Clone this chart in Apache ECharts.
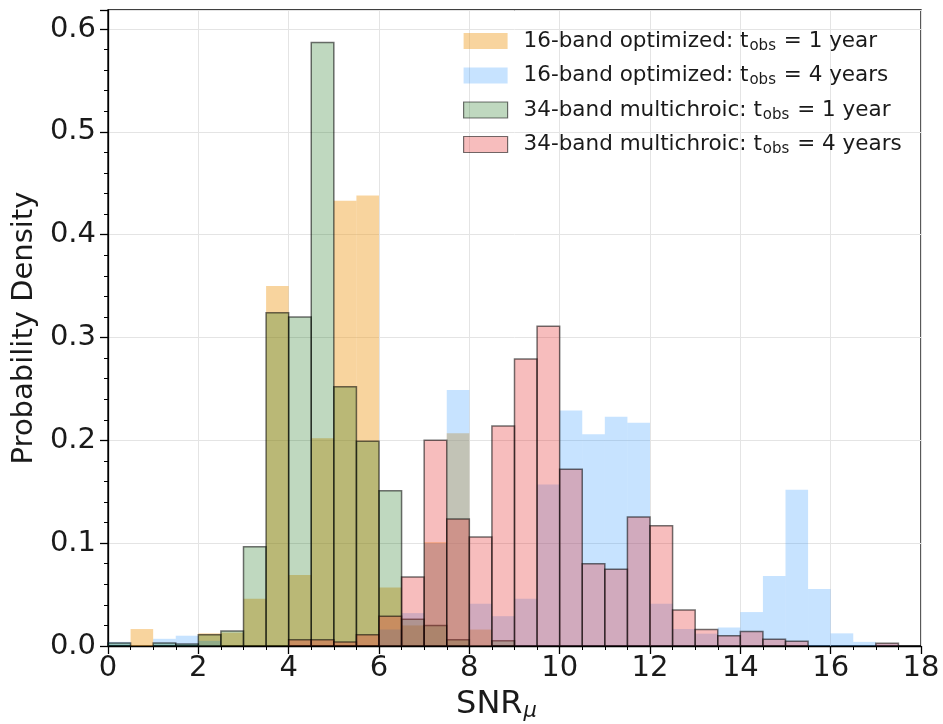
<!DOCTYPE html>
<html>
<head>
<meta charset="utf-8">
<script src="https://cdn.jsdelivr.net/npm/echarts@6/dist/echarts.min.js"></script>
<style>html,body{margin:0;padding:0;background:#fff}#c{width:943px;height:724px}</style>
</head>
<body>
<div id="c"></div>
<script>
// Histogram bins: width 0.5 from 0 to 17.5
const binWidth = 0.5;
const binStarts = [0,0.5,1,1.5,2,2.5,3,3.5,4,4.5,5,5.5,6,6.5,7,7.5,8,8.5,9,9.5,10,10.5,11,11.5,12,12.5,13,13.5,14,14.5,15,15.5,16,16.5,17];
const xTicks = [0,2,4,6,8,10,12,14,16,18];
const yTicks = [0.0,0.1,0.2,0.3,0.4,0.5,0.6];

// 16-band optimized, t_obs = 1 year
const opt1yr = [0,0.0165,0,0,0.0123,0.013,0.046,0.350,0.069,0.202,0.433,0.438,0.057,0.020,0.101,0.207,0.016,0,0,0,0,0,0,0,0,0,0,0,0,0,0,0,0,0,0];
// 16-band optimized, t_obs = 4 years
const opt4yr = [0.004,0,0.007,0.010,0.005,0,0,0,0,0,0,0,0.016,0.032,0.100,0.249,0.041,0.029,0.046,0.157,0.229,0.206,0.223,0.217,0.041,0.0165,0.012,0.018,0.033,0.068,0.152,0.0555,0.0123,0.004,0.002];
// 34-band multichroic, t_obs = 1 year
const mc1yr = [0.003,0,0.003,0.002,0.011,0.0146,0.0966,0.324,0.320,0.587,0.252,0.199,0.151,0.026,0.020,0.006,0,0.005,0,0,0,0,0,0,0,0,0,0,0,0,0,0,0,0,0];
// 34-band multichroic, t_obs = 4 years
const mc4yr = [0,0,0,0,0,0,0,0,0.006,0.006,0.004,0.011,0.029,0.067,0.200,0.1235,0.106,0.214,0.279,0.311,0.172,0.080,0.0746,0.1255,0.117,0.035,0.016,0.010,0.014,0.0065,0.0046,0,0,0,0.0026];

const names = [
  '16-band optimized: t{sub|obs} = 1 year',
  '16-band optimized: t{sub|obs} = 4 years',
  '34-band multichroic: t{sub|obs} = 1 year',
  '34-band multichroic: t{sub|obs} = 4 years'
];
const fills = ['rgba(240,160,40,0.45)','rgba(30,144,255,0.25)','rgba(0,100,0,0.25)','rgba(230,50,50,0.32)'];
const strokes = [null,null,'rgba(0,0,0,0.55)','rgba(0,0,0,0.55)'];
const allValues = [opt1yr, opt4yr, mc1yr, mc4yr];

const FONT = 'DejaVu Sans';

function histSeries(idx) {
  const data = binStarts.map((s, i) => [s, s + binWidth, allValues[idx][i]]);
  return {
    type: 'custom',
    name: names[idx],
    data: data,
    z: 2 + idx,
    itemStyle: {color: fills[idx], borderColor: strokes[idx] || 'transparent', borderWidth: strokes[idx] ? 1.5 : 0},
    encode: {x: [0, 1], y: 2},
    renderItem: function (params, api) {
      const x0 = api.value(0), x1 = api.value(1), v = api.value(2);
      if (!(v > 0)) return null;
      const p0 = api.coord([x0, v]);
      const p1 = api.coord([x1, 0]);
      return {
        type: 'rect',
        shape: {x: p0[0], y: p0[1], width: p1[0] - p0[0], height: p1[1] - p0[1]},
        style: strokes[idx]
          ? {fill: fills[idx], stroke: strokes[idx], lineWidth: 1.5}
          : {fill: fills[idx], stroke: null, lineWidth: 0}
      };
    }
  };
}

const chart = echarts.init(document.getElementById('c'), null, {renderer: 'canvas'});
const richSub = {sub: {fontSize: 15, fontFamily: FONT, color: '#1a1a1a', verticalAlign: 'bottom', padding: [10, 1, 0, 1]}};

chart.setOption({
  animation: false,
  backgroundColor: '#ffffff',
  textStyle: {fontFamily: FONT},
  grid: {left: 108, right: 22, top: 10, bottom: 78, show: true, borderColor: '#000', borderWidth: 1.3,
    backgroundColor: 'transparent', containLabel: false, outerBoundsMode: 'none'},
  legend: {
    orient: 'vertical',
    left: 458, top: 25,
    itemWidth: 44, itemHeight: 16, itemGap: 11,
    icon: 'rect',
    data: names.map((n, i) => ({name: n, itemStyle: {color: fills[i], borderColor: strokes[i] || 'transparent', borderWidth: strokes[i] ? 1.2 : 0}})),
    textStyle: {fontFamily: FONT, fontSize: 21.5, color: '#1a1a1a', padding: [0, 0, 0, 11], rich: richSub}
  },
  xAxis: {
    type: 'value', min: 0, max: 18, interval: 2,
    name: 'SNR{sub|μ}', nameLocation: 'middle', nameGap: 42,
    nameTextStyle: {fontFamily: FONT, fontSize: 32, color: '#1a1a1a', padding: [0, 36, 0, 0],
      rich: {sub: {fontSize: 21, fontFamily: FONT, fontStyle: 'italic', color: '#1a1a1a', verticalAlign: 'bottom', padding: [13, 0, 0, 1]}}},
    axisLine: {show: true, lineStyle: {color: '#000', width: 1.3}},
    axisTick: {show: true, inside: false, length: 8, lineStyle: {color: '#000', width: 1.3}},
    minorTick: {show: true, splitNumber: 4, length: 4, lineStyle: {color: '#000', width: 1}},
    axisLabel: {fontFamily: FONT, fontSize: 29, color: '#1a1a1a', margin: 8},
    splitLine: {show: true, lineStyle: {color: '#e4e4e4', width: 1}}
  },
  yAxis: {
    type: 'value', min: 0, max: 0.6185, interval: 0.1,
    name: 'Probability Density', nameLocation: 'middle', nameGap: 60,
    nameTextStyle: {fontFamily: FONT, fontSize: 29, color: '#1a1a1a'},
    axisLine: {show: true, lineStyle: {color: '#000', width: 1.3}},
    axisTick: {show: true, inside: false, length: 8, lineStyle: {color: '#000', width: 1.3}},
    minorTick: {show: true, splitNumber: 5, length: 4, lineStyle: {color: '#000', width: 1}},
    axisLabel: {fontFamily: FONT, fontSize: 29, color: '#1a1a1a', margin: 12, showMaxLabel: false,
      formatter: v => (Math.abs(v / 0.1 - Math.round(v / 0.1)) < 1e-6 ? v.toFixed(1) : '')},
    splitLine: {show: true, lineStyle: {color: '#e4e4e4', width: 1}}
  },
  series: [histSeries(0), histSeries(1), histSeries(2), histSeries(3)]
});
</script>
</body>
</html>
